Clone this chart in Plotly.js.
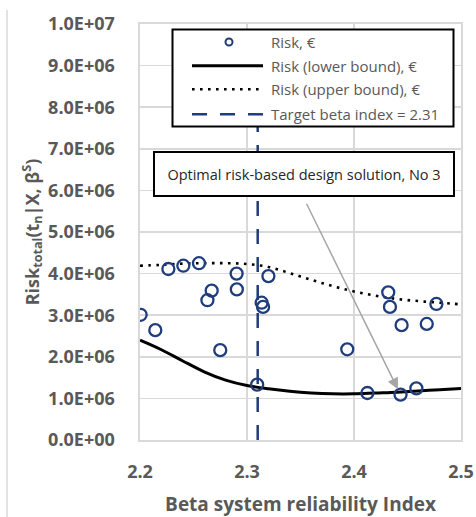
<!DOCTYPE html>
<html>
<head>
<meta charset="utf-8">
<script src="https://cdn.plot.ly/plotly-3.0.1.min.js"></script>
<style>
  html, body { margin: 0; padding: 0; background: #ffffff; }
  #chart { width: 476px; height: 517px; }
</style>
</head>
<body>
<div id="chart"></div>
<script>
// Design solutions: beta system reliability index and total risk (EUR)
const beta = [2.2006, 2.2143, 2.2265, 2.2405, 2.2551, 2.2670, 2.2630, 2.2750, 2.2903, 2.2905,
              2.3095, 2.3137, 2.3150, 2.3200, 2.3937, 2.4125, 2.4320, 2.4336, 2.4445, 2.4435,
              2.4583, 2.4680, 2.4770];
const risk = [3.01e6, 2.64e6, 4.11e6, 4.19e6, 4.25e6, 3.59e6, 3.36e6, 2.16e6, 4.00e6, 3.62e6,
              1.33e6, 3.30e6, 3.20e6, 3.94e6, 2.18e6, 1.13e6, 3.55e6, 3.20e6, 2.76e6, 1.09e6,
              1.24e6, 2.79e6, 3.27e6];

// Lower and upper risk bounds
const boundBeta = [2.20, 2.22, 2.24, 2.26, 2.28, 2.30, 2.32, 2.34, 2.36, 2.38, 2.40, 2.42, 2.44, 2.46, 2.48, 2.50];
const riskLower = [2.40e6, 2.17e6, 1.90e6, 1.64e6, 1.44e6, 1.31e6, 1.23e6, 1.17e6, 1.13e6, 1.11e6,
                   1.11e6, 1.13e6, 1.15e6, 1.18e6, 1.21e6, 1.24e6];
const riskUpper = [4.19e6, 4.21e6, 4.24e6, 4.25e6, 4.25e6, 4.23e6, 4.16e6, 4.01e6, 3.85e6, 3.70e6,
                   3.57e6, 3.47e6, 3.39e6, 3.34e6, 3.30e6, 3.26e6];

// Target reliability
const targetBeta = 2.31;

// Axis ticks
const yTickVals = [0, 1e6, 2e6, 3e6, 4e6, 5e6, 6e6, 7e6, 8e6, 9e6, 1e7];
const yTickText = ['0.0E+00', '1.0E+06', '2.0E+06', '3.0E+06', '4.0E+06', '5.0E+06',
                   '6.0E+06', '7.0E+06', '8.0E+06', '9.0E+06', '1.0E+07'];
const xTickVals = [2.2, 2.3, 2.4, 2.5];
const xTickText = ['2.2', '2.3', '2.4', '2.5'];

const legendLabels = ['Risk, €', 'Risk (lower bound), €', 'Risk (upper bound), €',
                      'Target beta index = ' + targetBeta];
const noteText = 'Optimal risk-based design solution, No 3';

const NAVY = '#1f3d7c';
const GREY = '#595959';
const FONT = '"Open Sans", "Liberation Sans", sans-serif';

const W = 476, H = 517;
const M = { l: 140, r: 15, t: 24, b: 77 };
const PW = W - M.l - M.r, PH = H - M.t - M.b;
// pixel -> paper helpers for legend/frame decoration
const px = v => (v - M.l) / PW;
const py = v => (H - M.b - v) / PH;

const traces = [
  {
    x: boundBeta, y: riskUpper, type: 'scatter', mode: 'lines', name: legendLabels[2],
    line: { color: '#000000', width: 2.6, dash: '2.6px,5.4px', shape: 'spline', smoothing: 1 },
    hoverinfo: 'skip'
  },
  {
    x: boundBeta, y: riskLower, type: 'scatter', mode: 'lines', name: legendLabels[1],
    line: { color: '#000000', width: 3, shape: 'spline', smoothing: 1 },
    hoverinfo: 'skip'
  },
  {
    x: [targetBeta, targetBeta], y: [0, 1e7], type: 'scatter', mode: 'lines', name: legendLabels[3],
    line: { color: NAVY, width: 2.5, dash: '15px,13px' },
    hoverinfo: 'skip'
  },
  {
    x: beta, y: risk, type: 'scatter', mode: 'markers', name: legendLabels[0],
    marker: { symbol: 'circle-open', size: 12, color: NAVY, line: { color: NAVY, width: 2.3 } }
  }
];

// Legend drawn as a framed box with sample graphics
const legRows = [42, 65.7, 89.3, 114.3];
const sx0 = 192, sx1 = 263, sxm = 229, tx = 269;
const shapes = [
  // chart-area edge line
  { type: 'line', xref: 'paper', yref: 'paper', x0: px(7), x1: px(7), y0: py(517), y1: py(10),
    line: { color: '#d9d9d9', width: 1.5 } },
  // legend frame
  { type: 'rect', xref: 'paper', yref: 'paper', x0: px(172.5), x1: px(453.5), y0: py(126.5), y1: py(29.5),
    fillcolor: '#ffffff', line: { color: '#000000', width: 2 }, layer: 'above' },
  // marker sample
  { type: 'circle', xref: 'paper', yref: 'paper', xsizemode: 'pixel', ysizemode: 'pixel',
    xanchor: px(sxm), yanchor: py(legRows[0]), x0: -3.5, x1: 3.5, y0: -3.5, y1: 3.5,
    line: { color: NAVY, width: 2 }, layer: 'above' },
  { type: 'line', xref: 'paper', yref: 'paper', x0: px(sx0), x1: px(sx1), y0: py(legRows[1]), y1: py(legRows[1]),
    line: { color: '#000000', width: 3 }, layer: 'above' },
  { type: 'line', xref: 'paper', yref: 'paper', x0: px(sx0), x1: px(sx1), y0: py(legRows[2]), y1: py(legRows[2]),
    line: { color: '#000000', width: 2.6, dash: '2.6px,5.4px' }, layer: 'above' },
  { type: 'line', xref: 'paper', yref: 'paper', x0: px(sx0), x1: px(sx1), y0: py(legRows[3]), y1: py(legRows[3]),
    line: { color: NAVY, width: 2.5, dash: '15px,13px' }, layer: 'above' }
];

const annotations = legendLabels.map((t, i) => ({
  xref: 'paper', yref: 'paper', x: px(tx), y: py(legRows[i]), xanchor: 'left', yanchor: 'middle',
  text: t, showarrow: false, font: { family: FONT, size: 15, color: GREY }
}));

// Pointer to the lowest-risk design solution
let iMin = 0;
risk.forEach((v, i) => { if (v < risk[iMin]) iMin = i; });
annotations.push({
  x: beta[iMin], y: risk[iMin], xref: 'x', yref: 'y', text: ' ',
  showarrow: true, arrowhead: 2, arrowsize: 1.5, arrowwidth: 1.5, arrowcolor: '#a6a6a6',
  standoff: 6, ax: -97, ay: -197
});
annotations.push({
  xref: 'paper', yref: 'paper', x: px(303.7), y: py(174.2), xanchor: 'center', yanchor: 'middle',
  text: noteText, showarrow: false, bgcolor: '#ffffff', bordercolor: '#000000', borderwidth: 2,
  width: 296, height: 40, borderpad: 1,
  font: { family: FONT, size: 14.5, color: '#262626' }
});

const layout = {
  width: W, height: H,
  margin: M,
  paper_bgcolor: '#ffffff', plot_bgcolor: '#ffffff',
  showlegend: false,
  font: { family: FONT, color: GREY },
  xaxis: {
    range: [2.2, 2.5], tickvals: xTickVals, ticktext: xTickText,
    showgrid: true, gridcolor: '#d9d9d9', gridwidth: 1.6,
    showline: true, linecolor: '#d9d9d9', linewidth: 1.6, mirror: true,
    zeroline: false, ticks: '', ticklabelstandoff: 15,
    tickfont: { family: FONT, size: 18, weight: 'bold', color: GREY },
    title: { text: 'Beta system reliability Index', standoff: 17,
             font: { family: FONT, size: 19, weight: 'bold', color: GREY } }
  },
  yaxis: {
    range: [0, 1e7], tickvals: yTickVals, ticktext: yTickText,
    showgrid: true, gridcolor: '#d9d9d9', gridwidth: 1.6,
    showline: true, linecolor: '#d9d9d9', linewidth: 1.6, mirror: true,
    zeroline: false, ticks: '', ticklabelstandoff: 20,
    tickfont: { family: FONT, size: 18, weight: 'bold', color: GREY },
    title: { text: 'Risk<sub>total</sub>(t<sub>n</sub>|X, β<sup>S</sup>)', standoff: 4,
             font: { family: FONT, size: 18, weight: 'bold', color: GREY } }
  },
  shapes: shapes,
  annotations: annotations
};

Plotly.newPlot('chart', traces, layout, { staticPlot: true, displayModeBar: false });
</script>
</body>
</html>
